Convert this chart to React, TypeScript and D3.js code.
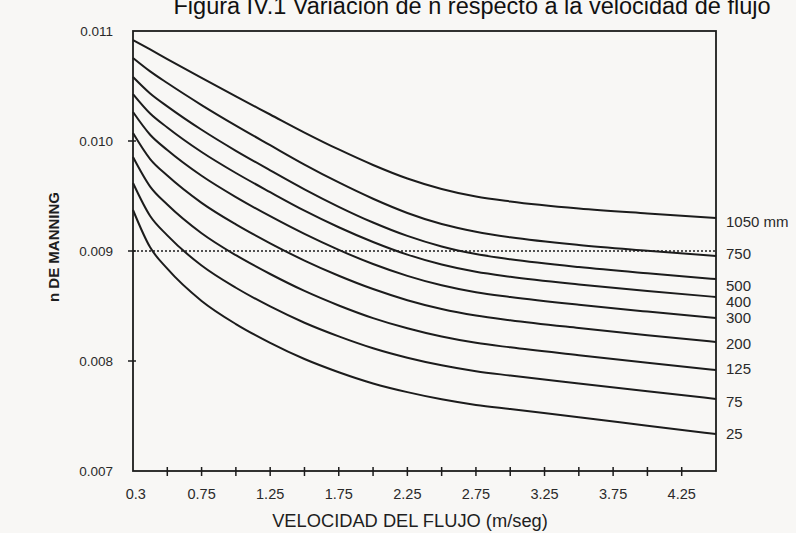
import React from "react";
import * as d3 from "d3";

const title = "Figura IV.1 Variación de n respecto a la velocidad de flujo";
const yLabel = "n DE MANNING";
const xLabel = "VELOCIDAD DEL FLUJO (m/seg)";

// velocity samples (m/s)
const velocities = [0.25, 0.375, 0.5, 0.75, 1.0, 1.25, 1.5, 1.75, 2.0, 2.25, 2.5, 2.75, 3.0, 3.5, 4.0, 4.5];

const seriesNames = ["1050 mm", "750", "500", "400", "300", "200", "125", "75", "25"];

const n1050 = [0.010918, 0.010832, 0.010745, 0.010573, 0.010405, 0.010241, 0.010077, 0.009923, 0.009782, 0.009659, 0.009564, 0.009495, 0.00945, 0.009386, 0.009341, 0.0093];
const n750 = [0.010755, 0.010633, 0.010527, 0.010327, 0.01014, 0.009962, 0.009786, 0.009623, 0.009475, 0.009346, 0.009245, 0.009175, 0.009125, 0.009055, 0.009003, 0.008955];
const n500 = [0.010582, 0.010432, 0.010315, 0.010102, 0.009911, 0.009734, 0.009561, 0.009402, 0.009259, 0.009137, 0.009041, 0.008972, 0.008925, 0.008854, 0.008797, 0.008745];
const n400 = [0.010427, 0.01025, 0.010123, 0.0099, 0.009709, 0.009535, 0.009367, 0.009216, 0.009082, 0.008967, 0.008877, 0.008811, 0.008766, 0.008696, 0.008636, 0.008582];
const n300 = [0.010264, 0.010057, 0.009918, 0.009684, 0.00949, 0.009316, 0.009155, 0.00901, 0.008882, 0.008774, 0.008688, 0.008625, 0.008582, 0.008511, 0.008449, 0.008391];
const n200 = [0.010073, 0.009836, 0.009686, 0.009438, 0.009242, 0.00907, 0.008913, 0.008775, 0.008654, 0.008553, 0.008473, 0.008414, 0.008371, 0.0083, 0.008235, 0.008173];
const n125 = [0.009855, 0.009586, 0.009423, 0.009162, 0.008962, 0.008791, 0.008637, 0.008505, 0.00839, 0.008297, 0.008222, 0.008165, 0.008124, 0.008053, 0.007984, 0.007918];
const n75 = [0.009618, 0.009318, 0.009142, 0.008868, 0.008666, 0.008496, 0.008348, 0.008224, 0.008116, 0.00803, 0.007961, 0.007907, 0.007868, 0.007796, 0.007725, 0.007655];
const n25 = [0.009373, 0.009033, 0.008839, 0.008546, 0.008336, 0.008165, 0.008018, 0.007898, 0.007796, 0.007717, 0.007652, 0.007601, 0.007563, 0.007489, 0.007412, 0.007336];

const seriesValues = [n1050, n750, n500, n400, n300, n200, n125, n75, n25];

// label vertical nudges (px) to keep labels apart
const labelNudge = [4, -2, 7, 5, 0, 2, -1, 3, 0];

const yTicks = [0.007, 0.008, 0.009, 0.01, 0.011];
const yTickLabels = ["0.007", "0.008", "0.009", "0.010", "0.011"];
const xTickMarks = [0.5, 0.75, 1.0, 1.25, 1.5, 1.75, 2.0, 2.25, 2.5, 2.75, 3.0, 3.25, 3.5, 3.75, 4.0, 4.25];
const xTickLabelValues = [0.3, 0.75, 1.25, 1.75, 2.25, 2.75, 3.25, 3.75, 4.25];
const xTickLabels = ["0.3", "0.75", "1.25", "1.75", "2.25", "2.75", "3.25", "3.75", "4.25"];
const referenceLine = 0.009;

const W = 796;
const H = 533;
const margin = { left: 133, right: 80, top: 31, bottom: 62 };

export default function App() {
  const x = d3.scaleLinear().domain([0.25, 4.5]).range([margin.left, W - margin.right]);
  const y = d3.scaleLinear().domain([0.007, 0.011]).range([H - margin.bottom, margin.top]);
  const line = d3
    .line<number>()
    .x((_, i) => x(velocities[i]))
    .y((d) => y(d))
    .curve(d3.curveMonotoneX);

  const ink = "#1c1c1c";
  const font = "'Liberation Sans', Arial, Helvetica, sans-serif";
  const [x0, x1] = x.range();
  const [yb, yt] = y.range();

  return (
    <svg
      width={W}
      height={H}
      style={{ position: "absolute", left: 0, top: 0, background: "#f8f7f5" }}
      fontFamily={font}
    >
      <text x={472} y={14} fontSize={23.5} textAnchor="middle" fill="#111">
        {title}
      </text>

      {/* frame */}
      <rect x={x0} y={yt} width={x1 - x0} height={yb - yt} fill="none" stroke={ink} strokeWidth={1.8} />

      {/* reference dotted line */}
      <line
        x1={x0}
        x2={x1}
        y1={y(referenceLine)}
        y2={y(referenceLine)}
        stroke={ink}
        strokeWidth={1.6}
        strokeDasharray="2,2"
      />

      {/* curves */}
      {seriesValues.map((vals, i) => (
        <path key={i} d={line(vals) || ""} fill="none" stroke={ink} strokeWidth={2} />
      ))}

      {/* y ticks */}
      {yTicks.map((t, i) => (
        <g key={i}>
          {t > 0.007 && t < 0.011 && (
            <line x1={x0 - 5} x2={x0 + 3} y1={y(t)} y2={y(t)} stroke={ink} strokeWidth={1.5} />
          )}
          <text x={x0 - 20} y={y(t)} dy="0.35em" fontSize={13.5} textAnchor="end" fill="#2a2a2a">
            {yTickLabels[i]}
          </text>
        </g>
      ))}

      {/* x ticks */}
      {xTickMarks.map((t, i) => (
        <line key={i} x1={x(t)} x2={x(t)} y1={yb - 4} y2={yb + 5} stroke={ink} strokeWidth={1.5} />
      ))}
      {xTickLabelValues.map((t, i) => (
        <text key={i} x={x(t) - (i === 0 ? 4 : 0)} y={yb + 28} fontSize={14.5} textAnchor="middle" fill="#2a2a2a">
          {xTickLabels[i]}
        </text>
      ))}

      {/* series labels */}
      {seriesValues.map((vals, i) => (
        <text
          key={i}
          x={x1 + 10}
          y={y(vals[vals.length - 1]) + labelNudge[i]}
          dy="0.35em"
          fontSize={15}
          fill="#2a2a2a"
        >
          {seriesNames[i]}
        </text>
      ))}

      {/* axis titles */}
      <text x={410} y={527} fontSize={18.3} textAnchor="middle" fill="#1e1e1e">
        {xLabel}
      </text>
      <text
        transform={`translate(${54},${(yt + yb) / 2 - 4}) rotate(-90)`}
        fontSize={15}
        fontWeight="bold"
        textAnchor="middle"
        dy="0.35em"
        fill="#1e1e1e"
      >
        {yLabel}
      </text>
    </svg>
  );
}
